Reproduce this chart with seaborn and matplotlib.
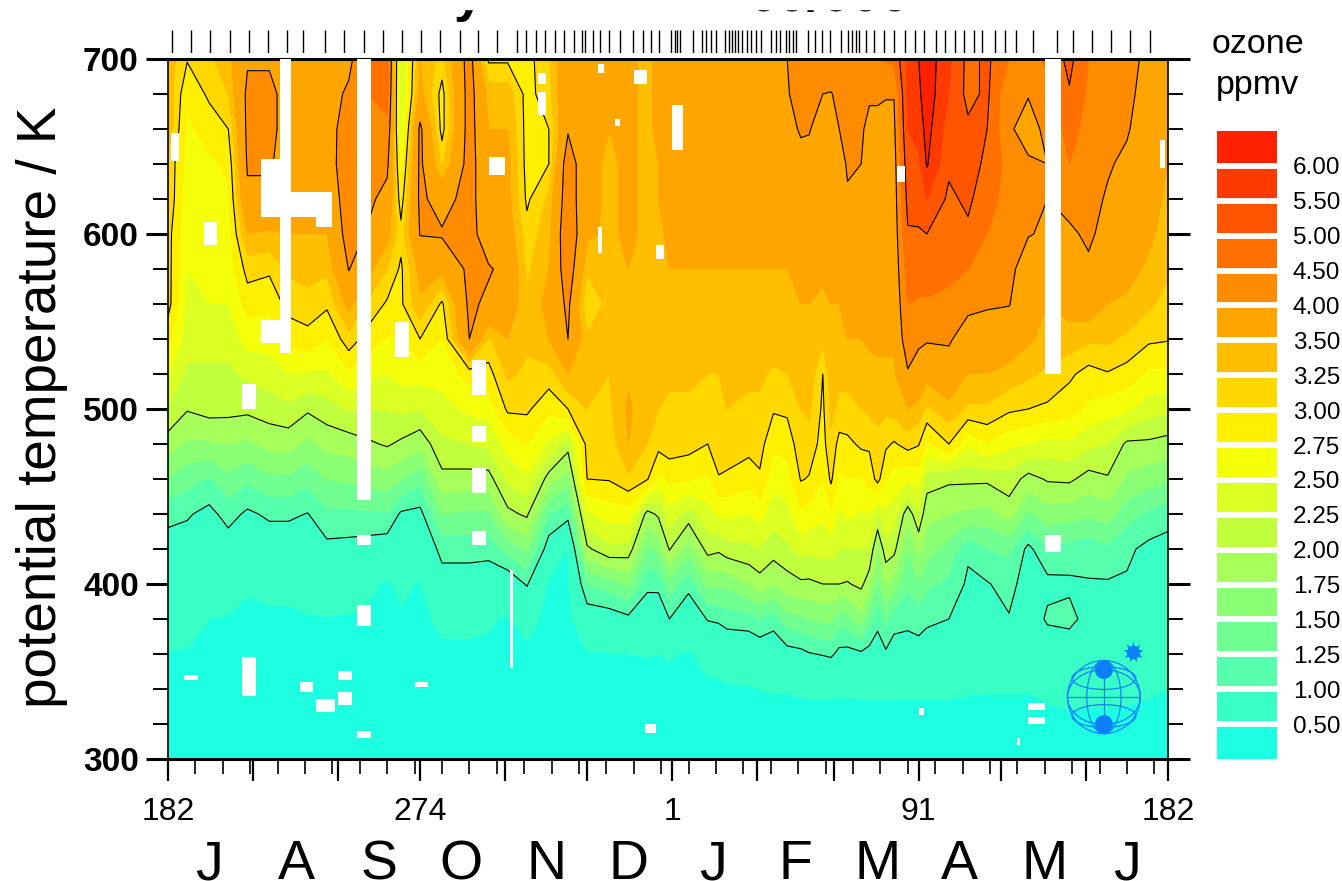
import numpy as np
import matplotlib
matplotlib.use('Agg')
import matplotlib.pyplot as plt
from matplotlib.colors import ListedColormap
from matplotlib.patches import Ellipse, Rectangle
import seaborn as sns

# potential temperature levels of the profiles, top to bottom
theta = [700, 680, 660, 640, 620, 600, 580, 560, 540, 520, 500, 480, 460, 440, 420, 400, 380, 360, 340, 320, 300]

# ozone (ppmv), one profile per day
p182 = [3.4, 3.4, 3.4, 3.2, 3.2, 3.1, 3.1, 3.1, 2.82, 2.52, 2.22, 1.88, 1.48, 1.07, .89, .75, .61, .49, .42, .36, .28]
p189 = [3.02, 2.8, 2.7, 2.65, 2.6, 2.55, 2.5, 2.45, 2.35, 2.2, 2.02, 1.7, 1.35, 1.03, .87, .74, .61, .48, .42, .36, .28]
p197 = [3.2, 3.05, 2.85, 2.7, 2.6, 2.6, 2.55, 2.5, 2.35, 2.2, 2.1, 1.71, 1.22, .92, .78, .64, .5, .45, .4, .35, .28]
p204 = [3.4, 3.25, 3.0, 2.8, 2.7, 2.65, 2.6, 2.5, 2.35, 2.2, 2.08, 1.75, 1.43, 1.1, .85, .65, .48, .43, .39, .34, .28]
p211 = [3.95, 4.1, 4.1, 4.05, 3.9, 3.5, 3.1, 2.85, 2.6, 2.3, 2.06, 1.7, 1.3, .95, .76, .52, .46, .42, .38, .34, .28]
p219 = [3.95, 4.1, 4.1, 4.05, 3.9, 3.45, 3.05, 2.8, 2.6, 2.36, 2.13, 1.82, 1.44, 1.05, .81, .58, .45, .42, .38, .34, .28]
p226 = [3.85, 3.85, 3.85, 3.8, 3.7, 3.5, 3.3, 3.1, 2.83, 2.5, 2.19, 1.84, 1.45, 1.05, .81, .58, .45, .42, .38, .34, .28]
p233 = [3.7, 3.7, 3.7, 3.7, 3.6, 3.5, 3.35, 3.15, 2.91, 2.47, 2.04, 1.68, 1.33, .99, .8, .61, .48, .43, .38, .34, .28]
p240 = [3.75, 3.75, 3.75, 3.7, 3.6, 3.5, 3.3, 3.05, 2.75, 2.45, 2.14, 1.83, 1.51, 1.2, .92, .68, .49, .44, .39, .34, .28]
p248 = [3.85, 4.1, 4.3, 4.4, 4.3, 4.2, 4.02, 3.6, 3.15, 2.7, 2.27, 1.87, 1.53, 1.2, .9, .65, .47, .42, .38, .34, .28]
p255 = [4.6, 4.5, 4.4, 4.3, 4.1, 3.95, 3.6, 3.2, 2.88, 2.56, 2.25, 1.96, 1.59, 1.21, .87, .55, .47, .42, .38, .34, .28]
p262 = [4.8, 4.65, 4.4, 4.1, 3.85, 3.6, 3.25, 2.96, 2.73, 2.5, 2.26, 2.03, 1.64, 1.23, .82, .47, .44, .4, .37, .33, .27]
p267 = [2.2, 2.2, 2.3, 2.6, 2.85, 3.1, 2.95, 2.95, 2.75, 2.6, 2.3, 1.95, 1.51, .96, .72, .55, .47, .42, .38, .34, .28]
p274 = [3.5, 3.6, 4.1, 4.1, 4.1, 4.02, 3.6, 3.45, 3.0, 2.6, 2.26, 1.82, 1.33, .92, .68, .48, .45, .41, .37, .33, .27]
p282 = [3.15, 2.9, 2.9, 3.2, 3.8, 4.05, 3.6, 2.95, 2.75, 2.6, 2.4, 2.2, 1.92, 1.5, 1.1, .85, .55, .46, .4, .35, .28]
p292 = [4.2, 4.2, 4.2, 4.2, 4.2, 4.2, 4.1, 4.1, 4.0, 2.85, 2.55, 2.25, 1.9, 1.45, 1.1, .85, .55, .46, .4, .35, .28]
p299 = [2.95, 3.4, 3.5, 3.6, 3.6, 3.7, 4.05, 3.9, 3.2, 2.9, 2.6, 2.3, 1.9, 1.45, 1.1, .8, .53, .45, .4, .35, .28]
p306 = [2.95, 3.4, 3.5, 3.6, 3.6, 3.7, 3.85, 3.75, 3.5, 3.3, 3.05, 2.6, 2.3, 1.93, 1.35, .77, .47, .43, .39, .34, .27]
p313 = [2.9, 2.9, 2.9, 2.9, 2.95, 3.1, 3.2, 3.3, 3.3, 3.2, 3.05, 2.75, 2.45, 2.05, 1.55, 1.03, .6, .44, .4, .35, .28]
p321 = [3.2, 3.15, 3.0, 3.0, 3.3, 3.4, 3.5, 3.6, 3.5, 3.15, 2.8, 2.45, 1.89, 1.24, .85, .45, .42, .4, .37, .33, .27]
p328 = [3.9, 3.9, 3.95, 4.3, 4.3, 4.4, 4.3, 4.1, 4.0, 3.5, 3.0, 2.12, 1.6, 1.11, .5, .45, .42, .4, .36, .33, .27]
p335 = [3.6, 3.6, 3.6, 3.6, 3.6, 3.55, 3.3, 3.0, 3.3, 3.35, 3.25, 3.1, 3.0, 2.45, 1.95, 1.26, .8, .48, .42, .36, .28]
p343 = [3.5, 3.5, 3.5, 3.45, 3.45, 3.45, 3.4, 3.35, 3.3, 3.25, 3.2, 3.1, 3.02, 2.6, 2.2, 1.37, .84, .48, .42, .36, .28]
p350 = [3.55, 3.55, 3.55, 3.55, 3.55, 3.55, 3.5, 3.4, 3.35, 3.45, 3.55, 3.5, 3.2, 2.63, 2.15, 1.55, .93, .5, .42, .36, .28]
p357 = [3.45, 3.45, 3.45, 3.45, 3.45, 3.45, 3.45, 3.4, 3.35, 3.3, 3.3, 3.25, 3.02, 1.9, 1.45, 1.07, .78, .51, .42, .36, .28]
p361 = [3.55, 3.55, 3.55, 3.5, 3.5, 3.45, 3.4, 3.4, 3.35, 3.3, 3.25, 3.1, 2.64, 2.05, 1.56, 1.08, .76, .5, .42, .36, .28]
p365 = [3.6, 3.6, 3.6, 3.55, 3.55, 3.55, 3.5, 3.45, 3.35, 3.3, 3.2, 3.15, 2.8, 2.4, 2.02, 1.4, 1.0, .52, .42, .36, .28]
p372 = [3.6, 3.6, 3.6, 3.6, 3.55, 3.55, 3.5, 3.45, 3.35, 3.3, 3.2, 3.1, 2.78, 2.15, 1.6, 1.09, .76, .47, .41, .36, .28]
p379 = [3.65, 3.65, 3.65, 3.6, 3.6, 3.55, 3.5, 3.45, 3.35, 3.25, 3.15, 3.0, 2.7, 2.4, 2.1, 1.55, 1.02, .62, .44, .36, .28]
p383 = [3.65, 3.65, 3.65, 3.6, 3.6, 3.55, 3.5, 3.45, 3.35, 3.25, 3.2, 3.15, 2.98, 2.53, 2.05, 1.55, 1.05, .65, .44, .36, .28]
p386 = [3.7, 3.7, 3.65, 3.6, 3.6, 3.55, 3.5, 3.45, 3.35, 3.3, 3.25, 3.15, 2.95, 2.55, 2.15, 1.55, 1.12, .7, .46, .36, .28]
p394 = [3.9, 3.75, 3.7, 3.65, 3.6, 3.55, 3.5, 3.45, 3.4, 3.3, 3.2, 3.1, 2.84, 2.5, 2.2, 1.75, 1.15, .72, .48, .37, .28]
p398 = [3.95, 3.7, 3.65, 3.65, 3.6, 3.55, 3.5, 3.45, 3.4, 3.3, 3.2, 3.1, 2.96, 2.6, 2.24, 1.89, 1.24, .78, .5, .38, .28]
p403 = [3.95, 3.75, 3.65, 3.65, 3.6, 3.55, 3.5, 3.45, 3.4, 3.2, 3.03, 2.8, 2.58, 2.35, 2.12, 1.75, 1.13, .75, .52, .38, .28]
p408 = [4.0, 3.98, 3.85, 3.7, 3.65, 3.6, 3.5, 3.45, 3.4, 3.25, 3.05, 2.85, 2.65, 2.4, 2.2, 1.88, 1.4, .88, .52, .38, .28]
p413 = [4.2, 4.1, 4.05, 3.85, 3.75, 3.65, 3.55, 3.5, 3.45, 3.35, 3.25, 3.15, 3.02, 2.7, 2.35, 1.95, 1.45, .92, .54, .38, .28]
p416 = [4.3, 4.2, 4.02, 3.9, 3.8, 3.7, 3.6, 3.5, 3.45, 3.4, 3.3, 3.15, 2.98, 2.65, 2.3, 1.95, 1.5, .98, .55, .38, .28]
p421 = [4.3, 4.0, 3.85, 3.7, 3.7, 3.6, 3.55, 3.45, 3.3, 3.0, 2.95, 2.9, 2.75, 2.55, 2.35, 2.0, 1.55, 1.02, .55, .38, .28]
p424 = [4.3, 3.98, 3.8, 3.7, 3.7, 3.6, 3.55, 3.5, 3.45, 3.4, 3.3, 3.2, 3.05, 2.7, 2.35, 2.0, 1.56, 1.05, .55, .38, .28]
p427 = [4.3, 4.1, 4.0, 3.8, 3.75, 3.65, 3.6, 3.5, 3.45, 3.3, 3.2, 2.9, 2.7, 2.45, 2.25, 2.0, 1.35, .92, .54, .38, .28]
p430 = [4.4, 4.3, 4.1, 4.05, 3.95, 3.7, 3.65, 3.55, 3.5, 3.3, 3.2, 2.93, 2.75, 2.55, 2.25, 1.98, 1.4, .9, .54, .38, .28]
p435 = [4.4, 4.05, 4.05, 4.0, 3.85, 3.7, 3.65, 3.55, 3.5, 3.4, 3.25, 3.05, 2.72, 2.48, 2.25, 2.06, 1.65, .95, .55, .38, .28]
p438 = [4.5, 4.05, 3.9, 3.8, 3.75, 3.7, 3.65, 3.6, 3.55, 3.4, 3.3, 3.05, 2.82, 2.5, 2.22, 1.85, 1.32, .9, .56, .38, .28]
p441 = [4.5, 4.05, 3.9, 3.8, 3.75, 3.7, 3.65, 3.6, 3.55, 3.45, 3.3, 3.2, 3.1, 2.22, 1.73, 1.41, 1.08, .85, .55, .38, .28]
p444 = [4.55, 4.02, 3.9, 3.8, 3.75, 3.7, 3.65, 3.6, 3.55, 3.45, 3.3, 3.05, 2.75, 2.45, 2.15, 1.76, 1.33, .95, .56, .38, .28]
p447 = [4.6, 4.02, 3.9, 3.8, 3.75, 3.7, 3.65, 3.6, 3.55, 3.45, 3.35, 2.97, 2.65, 2.35, 2.08, 1.63, 1.1, .87, .55, .38, .28]
p452 = [5.6, 5.6, 5.5, 5.3, 5.15, 4.95, 4.7, 4.5, 4.3, 3.95, 3.5, 3.1, 2.55, 1.85, 1.5, 1.3, 1.05, .9, .55, .38, .28]
p456 = [6.0, 5.9, 5.7, 5.4, 5.2, 4.95, 4.7, 4.45, 4.1, 3.75, 3.4, 3.02, 2.61, 2.2, 1.81, 1.46, 1.11, .88, .55, .38, .28]
p459 = [6.3, 6.3, 6.2, 6.05, 5.5, 5.0, 4.7, 4.45, 4.05, 3.6, 3.2, 2.7, 2.12, 1.83, 1.6, 1.3, 1.05, .85, .55, .38, .28]
p467 = [5.6, 5.5, 5.25, 5.1, 4.9, 4.8, 4.6, 4.4, 4.05, 3.8, 3.4, 3.0, 2.05, 1.75, 1.4, 1.2, 1.0, .9, .55, .38, .28]
p474 = [4.85, 4.85, 5.1, 5.2, 5.1, 4.9, 4.5, 4.1, 3.8, 3.5, 3.2, 2.55, 2.05, 1.7, 1.05, .95, .85, .7, .53, .38, .28]
p481 = [5.1, 5.1, 5.0, 4.9, 4.7, 4.5, 4.3, 4.05, 3.75, 3.5, 3.2, 2.75, 2.05, 1.65, 1.25, .98, .85, .7, .52, .38, .28]
p489 = [4.5, 4.05, 4.05, 4.3, 4.3, 4.2, 4.1, 4.02, 3.7, 3.4, 3.05, 2.55, 2.15, 1.85, 1.3, 1.1, .98, .74, .52, .37, .28]
p496 = [4.3, 4.02, 3.85, 4.05, 4.15, 4.02, 3.8, 3.65, 3.55, 3.3, 3.0, 2.5, 1.9, 1.45, .93, .85, .78, .66, .52, .37, .28]
p503 = [4.6, 4.3, 4.1, 4.0, 4.0, 3.95, 3.7, 3.5, 3.4, 3.2, 2.95, 2.4, 2.03, 1.63, 1.22, .92, 1.05, .75, .55, .42, .28]
p511 = [5.15, 4.95, 4.7, 4.5, 4.2, 3.9, 3.95, 3.6, 3.4, 3.05, 2.85, 2.45, 2.05, 1.6, 1.15, .95, 1.08, .8, .6, .43, .28]
p518 = [4.5, 4.4, 4.3, 4.2, 4.15, 4.1, 3.9, 3.7, 3.3, 2.9, 2.7, 2.3, 1.9, 1.55, 1.1, .98, .9, .78, .6, .42, .28]
p525 = [4.4, 4.3, 4.2, 4.05, 3.95, 3.8, 3.6, 3.5, 3.3, 2.98, 2.6, 2.25, 1.97, 1.6, 1.2, .97, .87, .75, .58, .42, .28]
p532 = [4.2, 4.15, 4.05, 3.9, 3.85, 3.7, 3.6, 3.45, 3.2, 2.9, 2.55, 1.95, 1.7, 1.35, 1.05, .97, .85, .72, .57, .42, .28]
p540 = [3.85, 3.75, 3.7, 3.65, 3.6, 3.55, 3.45, 3.3, 3.05, 2.7, 2.35, 1.95, 1.6, 1.2, .93, .82, .72, .62, .53, .42, .28]
p547 = [3.6, 3.55, 3.5, 3.5, 3.45, 3.4, 3.3, 3.15, 3.02, 2.7, 2.3, 1.9, 1.55, 1.1, .9, .8, .7, .6, .5, .4, .28]

profile_days = [182, 189, 197, 204, 211, 219, 226, 233, 240, 248, 255, 262, 267, 274, 282, 292, 299, 306, 313, 321,
                328, 335, 343, 350, 357, 361, 365, 372, 379, 383, 386, 394, 398, 403, 408, 413, 416, 421, 424, 427,
                430, 435, 438, 441, 444, 447, 452, 456, 459, 467, 474, 481, 489, 496, 503, 511, 518, 525, 532, 540, 547]
profiles = [p182, p189, p197, p204, p211, p219, p226, p233, p240, p248, p255, p262, p267, p274, p282, p292, p299,
            p306, p313, p321, p328, p335, p343, p350, p357, p361, p365, p372, p379, p383, p386, p394, p398, p403,
            p408, p413, p416, p421, p424, p427, p430, p435, p438, p441, p444, p447, p452, p456, p459, p467, p474,
            p481, p489, p496, p503, p511, p518, p525, p532, p540, p547]

# days of the soundings (ticks along the top)
sounding_days = [183.5, 190.4, 197.3, 204.6, 211.6, 218.5, 225.4, 231.3, 239.3, 246.2, 253.5, 260.5, 267.4, 274.3,
                 281.3, 288.6, 295.1, 302.1, 309.4, 312.7, 316.3, 319.6, 323.2, 326.5, 330.2, 333.1, 334.2, 337.1,
                 339.7, 343, 347, 351.7, 355.4, 358.3, 361.2, 365.6, 367, 367.8, 368.9, 373.6, 376.9, 378.4, 380.2,
                 382, 385.3, 386.7, 387.8, 388.9, 390, 391.5, 393.3, 394.8, 396.6, 398.4, 402.1, 403.9, 405.4, 407.5,
                 408.6, 410.1, 411.2, 415.6, 418.1, 420.7, 423.6, 427.6, 430.2, 431.6, 433.1, 434.2, 436.7, 439.7,
                 443.3, 447, 451, 454.6, 457.9, 462.3, 465.6, 469.2, 472.5, 476.2, 479.1, 483.8, 487.5, 491.5, 497.7,
                 506.5, 512.3, 519.2, 526.2, 533.1, 540.4]

# missing data blocks
gap_day0 = [183, 195, 216, 223, 223, 236, 216, 209, 251, 251, 251, 265, 299, 293, 293, 293, 293, 307, 317, 317, 339,
            352, 366, 345, 360, 339, 448, 502, 544, 502, 188, 209, 230, 244, 244, 236, 251, 272, 356, 456, 496, 496, 492]
gap_day1 = [186, 200, 223, 227, 242, 242, 223, 214, 256, 256, 256, 270, 305, 298, 298, 298, 298, 308, 320, 320, 340.5,
            357, 370, 347, 363, 341, 451, 508, 546, 508, 193, 214, 235, 249, 249, 243, 256, 277, 360, 458, 502, 502, 493]
gap_low = [642, 594, 610, 532, 610, 604, 538, 500, 448, 422, 376, 530, 634, 508, 481, 452, 422, 352, 686, 668, 589,
           686, 648, 662, 586, 692, 630, 520, 638, 418, 345, 336, 338, 345, 331, 327, 312, 341, 315, 325, 328, 320, 308]
gap_high = [658, 607, 643, 700, 624, 610, 551, 514, 700, 428, 388, 550, 644, 528, 490, 466, 430, 408, 692, 681, 604,
            694, 674, 666, 594, 697, 639, 700, 654, 428, 348, 358, 344, 350, 338, 334, 316, 344, 320, 329, 332, 324, 312]

# colour classes
class_edges = [0, 0.5, 1, 1.25, 1.5, 1.75, 2, 2.25, 2.5, 2.75, 3, 3.25, 3.5, 4, 4.5, 5, 5.5, 6, 8]
class_colors = ['#1CFFE0', '#38FFC6', '#55FFAC', '#70FF90', '#8BFF74', '#A6FF5A', '#C1FF3E', '#DCFF24', '#F5FF0A',
                '#FFF000', '#FFD800', '#FFBE00', '#FFA500', '#FF8C00', '#FF7000', '#FF5500', '#FF3A00', '#FF2000']
legend_labels = ['6.00', '5.50', '5.00', '4.50', '4.00', '3.50', '3.25', '3.00', '2.75', '2.50', '2.25', '2.00',
                 '1.75', '1.50', '1.25', '1.00', '0.50']
contour_levels = [1, 2, 3, 4, 5, 6]

month_letters = ['J', 'A', 'S', 'O', 'N', 'D', 'J', 'F', 'M', 'A', 'M', 'J']
month_centers = [197, 229, 259, 289, 320, 350, 381, 411, 441, 471, 502, 532]
month_starts = [182, 213, 244, 274, 305, 335, 366, 397, 425, 456, 486, 517, 547]
day_ticks = [182, 274, 366, 456, 547]
day_labels = ['182', '274', '1', '91', '182']

W, H = 1342, 881
sns.set_theme(style='ticks')
plt.rcParams['font.family'] = ['Liberation Sans', 'DejaVu Sans']
for key_name in ['text.color', 'axes.labelcolor', 'axes.edgecolor', 'xtick.color', 'ytick.color']:
    plt.rcParams[key_name] = 'black'


def box(x0, y0, x1, y1):
    # pixel box of the reference -> figure fractions
    return [x0 / W, 1 - y1 / H, (x1 - x0) / W, (y1 - y0) / H]


fig = plt.figure(figsize=(W / 100, H / 100), dpi=100)
ax = fig.add_axes(box(168, 59, 1168, 759))

ozone = np.column_stack(profiles)
ax.contourf(profile_days, theta, ozone, levels=class_edges, colors=class_colors, zorder=1)
ax.contour(profile_days, theta, ozone, levels=contour_levels, colors='black', linewidths=0.8, zorder=2)

for d0, d1, lo, hi in zip(gap_day0, gap_day1, gap_low, gap_high):
    ax.fill_between([d0, d1], lo, hi, color='white', lw=0, zorder=3)

ax.set_xlim(182, 547)
ax.set_ylim(300, 700)
ax.set_xticks(month_starts)
ax.set_xticklabels([])
ax.set_xticks(np.arange(182, 547, 10), minor=True)
ax.set_yticks([300, 400, 500, 600, 700])
ax.set_yticks(np.arange(300, 701, 20), minor=True)
ax.tick_params(axis='y', which='major', left=True, right=True, direction='out', length=16, width=2.2, labelsize=24, pad=5)
ax.tick_params(axis='y', which='minor', left=True, right=True, direction='out', length=11, width=1.4)
ax.tick_params(axis='x', which='major', bottom=True, direction='out', length=16, width=1.6)
ax.tick_params(axis='x', which='minor', bottom=True, direction='out', length=11, width=1.2)
for lab in ax.get_yticklabels():
    lab.set_fontweight('bold')
for side in ['left', 'right']:
    ax.spines[side].set_linewidth(1.2)
for side in ['top', 'bottom']:
    ax.spines[side].set_linewidth(2.2)

# day numbers and month letters under the axis
trans = ax.get_xaxis_transform()
for d, lab in zip(day_ticks, day_labels):
    ax.text(d, -53 / 700, lab, transform=trans, ha='center', va='center', fontsize=23)
for d, lab in zip(month_centers, month_letters):
    ax.text(d, -(879 - 759) / 700, lab, transform=trans, ha='center', va='baseline', fontsize=40)

fig.text(42 / W, 1 - 407 / H, 'potential temperature / K', rotation=90, ha='center', va='center', fontsize=39.5)

# globe logo
blue = '#1080FF'
cx, cy, rx, ry = 523.6, 335.4, 13.3, 20.9
ax.add_patch(Ellipse((cx, cy), 2 * rx, 2 * ry, fill=False, ec=blue, lw=0.9, zorder=4))
ax.add_patch(Ellipse((cx, cy), rx * 0.94, 2 * ry, fill=False, ec=blue, lw=0.9, zorder=4))
ax.add_patch(Ellipse((cx, cy), 2 * rx, 1.5 * ry, fill=False, ec=blue, lw=0.9, zorder=4))
ax.plot([cx - rx, cx + rx], [cy, cy], color=blue, lw=0.9, zorder=4)
ax.plot([cx, cx], [cy - ry, cy + ry], color=blue, lw=0.9, zorder=4)
for off in [-0.74, 0.74]:
    ax.add_patch(Ellipse((cx, cy + off * 0.7 * ry), 1.75 * rx, 0.62 * ry, fill=False, ec=blue, lw=0.9, zorder=4))
    ax.add_patch(Ellipse((cx, cy + off * ry), 6.6, 10.3, fc='#0A80FF', ec='none', zorder=5))
ax.scatter([534.2], [361], marker=(9, 1, 0), s=230, color='#0A80FF', lw=0, zorder=5)
ax.scatter([534.2], [361], marker='o', s=90, color='#0A80FF', lw=0, zorder=5)

# sounding ticks along the top
ax_top = fig.add_axes(box(168, 30, 1168, 53))
sns.rugplot(x=sounding_days, height=1, ax=ax_top, color='black', lw=1.1)
ax_top.set_xlim(182, 547)
ax_top.set_ylim(0, 1)
ax_top.axis('off')

# colour key
ax_key = fig.add_axes(box(1217, 131, 1277, 759))
key = np.arange(len(class_colors))[::-1].reshape(-1, 1)
sns.heatmap(key, ax=ax_key, cmap=ListedColormap(class_colors), cbar=False, linewidths=0,
            xticklabels=False, yticklabels=False)
for k in range(1, len(class_colors)):
    ax_key.axhline(k, color='white', lw=4.2)
ax_key.yaxis.tick_right()
ax_key.set_yticks(range(1, len(class_colors)))
ax_key.set_yticklabels(legend_labels, rotation=0, fontsize=17.5)
ax_key.tick_params(axis='y', length=0, pad=11.5, right=False)

fig.text(1212 / W, 1 - 53 / H, 'ozone', fontsize=24.5, ha='left', va='baseline')
fig.text(1216 / W, 1 - 94 / H, 'ppmv', fontsize=24.5, ha='left', va='baseline')

# title is cut in the source image, only the lowest strokes show below y = 9
fig.text(468 / W, 1 - 10.5 / H, 'y', fontsize=38, fontweight='bold', ha='center', va='baseline')
fig.text(749 / W, 1 - 10.5 / H, '00/000', fontsize=38, fontweight='bold', ha='left', va='baseline')
fig.add_artist(Rectangle((0, 1 - 9 / H), 1, 9 / H, transform=fig.transFigure, color='white', zorder=10))

fig.savefig('out.png', dpi=100, facecolor='white')
